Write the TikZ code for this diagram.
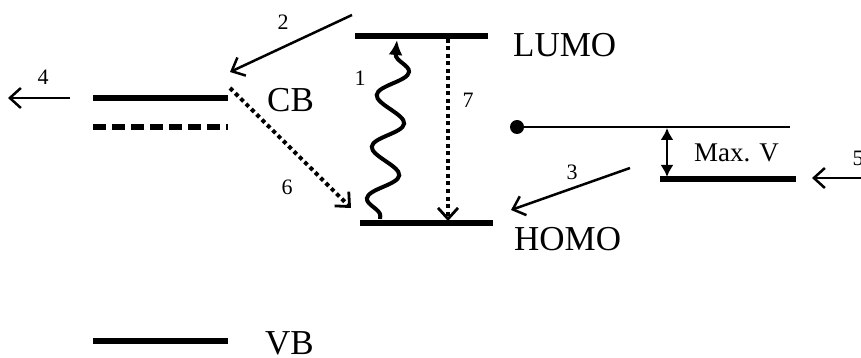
\documentclass[tikz,border=0pt]{standalone}
\usepackage{fontspec}
\setmainfont{Liberation Serif}
\usetikzlibrary{arrows.meta,decorations.pathmorphing}
\begin{document}
\begin{tikzpicture}[x=1pt,y=-1pt,
  level/.style={line width=6pt},
  thinlevel/.style={line width=2.2pt},
  barb/.style={-{Straight Barb[length=11pt,width=20pt,line width=2.5pt]}, line width=2.5pt},
  dotarrow/.style={-{Straight Barb[length=11pt,width=20pt,line width=2.8pt]}, line width=4pt, dash pattern=on 4pt off 3.5pt},
  big/.style={font=\fontsize{35}{38}\selectfont, anchor=west, inner sep=0pt},
  num/.style={font=\fontsize{22}{24}\selectfont, inner sep=0pt}]
\clip (0,0) rectangle (861,358);
% levels
\coordinate (cb1) at (93,98);  \coordinate (cb2) at (228,98);
\coordinate (cd1) at (93,127); \coordinate (cd2) at (228,127);
\coordinate (vb1) at (93,341); \coordinate (vb2) at (228,341);
\coordinate (lu1) at (355,36); \coordinate (lu2) at (488,36);
\coordinate (ho1) at (360,223); \coordinate (ho2) at (493,223);
\coordinate (mv1) at (660,179); \coordinate (mv2) at (796,179);
\coordinate (dot) at (517,127); \coordinate (ref2) at (790,127);
\draw[level] (cb1) -- (cb2);
\draw[level, dash pattern=on 13pt off 6pt] (cd1) -- (cd2);
\draw[level] (vb1) -- (vb2);
\draw[level] (lu1) -- (lu2);
\draw[level] (ho1) -- (ho2);
\draw[level] (mv1) -- (mv2);
\draw[thinlevel] (dot) -- (ref2);
\fill (dot) circle (7pt);
% labels
\node[big] (cbt) at (267,100) {CB};
\node[big] (vbt) at (265,343) {VB};
\node[big] (lumo) at (513,45) {LUMO};
\node[big] (homo) at (514,239) {HOMO};
\node[big, font=\fontsize{27}{30}\selectfont] (maxv) at (694,153) {Max. V};
% arrow 4
\coordinate (a4s) at (70,98); \coordinate (a4e) at (8,98);
\draw[barb] (a4s) -- (a4e);
\node[num] (n4) at (43,77) {4};
% arrow 2
\coordinate (a2s) at (352,15); \coordinate (a2e) at (230,72);
\draw[barb] (a2s) -- (a2e);
\node[num] (n2) at (283,22) {2};
% arrow 6
\coordinate (a6s) at (230,88); \coordinate (a6e) at (351,208);
\draw[dotarrow] (a6s) -- (a6e);
\node[num] (n6) at (287,187) {6};
% arrow 7
\coordinate (a7s) at (448,39); \coordinate (a7e) at (448,221);
\draw[dotarrow] (a7s) -- (a7e);
\node[num] (n7) at (468,100) {7};
% wavy arrow 1
\coordinate (a1s) at (380,219); \coordinate (a1e) at (397,40);
\draw[line width=4pt, -{Latex[length=15pt,width=14pt]},
  decorate, decoration={snake, amplitude=15pt, segment length=52pt, pre length=3pt, post length=10pt}]
  (a1s) -- (a1e);
\node[num] (n1) at (360,78) {1};
% arrow 3
\coordinate (a3s) at (630,168); \coordinate (a3e) at (511,210);
\draw[barb] (a3s) -- (a3e);
\node[num] (n3) at (572,172) {3};
% arrow 5
\coordinate (a5s) at (861,178); \coordinate (a5e) at (812,178);
\draw[barb] (a5s) -- (a5e);
\node[num] (n5) at (858,158) {5};
% Max V double arrow
\coordinate (mvt) at (667,128); \coordinate (mvb) at (667,177);
\draw[line width=2.2pt, {Latex[length=12pt,width=13pt]}-{Latex[length=12pt,width=13pt]}] (mvt) -- (mvb);
\end{tikzpicture}
\end{document}
